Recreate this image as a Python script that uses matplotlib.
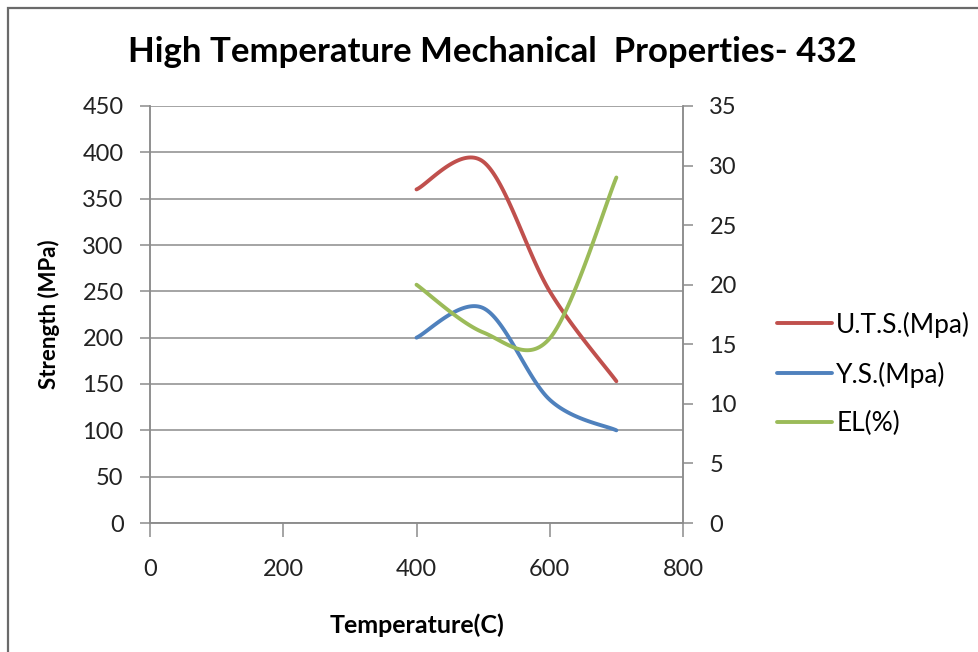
import matplotlib
matplotlib.use("Agg")
import matplotlib.pyplot as plt
import numpy as np
from matplotlib.bezier import BezierSegment
from matplotlib.patches import Rectangle

plt.rcParams['font.family'] = ['Lato', 'DejaVu Sans']

temps = [400, 500, 600, 700]
uts = [360, 390, 250, 153]
ys = [200, 232, 133, 100]
el = [20, 16, 15.5, 29]

x_ticks = [0, 200, 400, 600, 800]
left_ticks = list(range(0, 451, 50))
right_ticks = list(range(0, 36, 5))

red = "#C0504D"
blue = "#4F81BD"
green = "#9BBB59"
grey = "#8C8C8C"


def smooth(xs, vs, n=40):
    # excel style smoothed line: catmull-rom control points, cubic bezier pieces
    pts = np.column_stack([xs, vs]).astype(float)
    ext = np.vstack([pts[0], pts, pts[-1]])
    out = []
    for i in range(len(pts) - 1):
        p0, p1 = ext[i + 1], ext[i + 2]
        c1 = p0 + (ext[i + 2] - ext[i]) / 6
        c2 = p1 - (ext[i + 3] - ext[i + 1]) / 6
        seg = BezierSegment(np.array([p0, c1, c2, p1]))
        out.append(seg(np.linspace(0, 1, n)))
    out = np.vstack(out)
    return out[:, 0], out[:, 1]


fig = plt.figure(figsize=(9.79, 6.52), dpi=100)
# outer chart border, only top and left edges fall inside the picture
fig.patches.append(Rectangle((8 / 979, -0.05), 1.0, 1 - 8 / 652 + 0.05,
                             transform=fig.transFigure, fill=False,
                             edgecolor="#6a6a6a", linewidth=1.6))

ax = fig.add_axes([150 / 979, 1 - 523 / 652, 533 / 979, 417 / 652])
ax2 = ax.twinx()

sx, sy = smooth(temps, uts)
l1, = ax.plot(sx, sy, color=red, lw=2.8, solid_capstyle="round", label="U.T.S.(Mpa)")
sx, sy = smooth(temps, ys)
l2, = ax.plot(sx, sy, color=blue, lw=2.8, solid_capstyle="round", label="Y.S.(Mpa)")
sx, sy = smooth(temps, el)
l3, = ax2.plot(sx, sy, color=green, lw=2.8, solid_capstyle="round", label="EL(%)")

ax.set_xlim(0, 800)
ax.set_ylim(0, 450)
ax2.set_ylim(0, 35)
ax.set_xticks(x_ticks)
ax.set_yticks(left_ticks)
ax2.set_yticks(right_ticks)
ax.yaxis.grid(True, color=grey, lw=1.1)
ax.set_axisbelow(True)

for a in (ax, ax2):
    for s in a.spines.values():
        s.set_color(grey)
        s.set_linewidth(1.1)
    a.spines['top'].set_visible(False)
    a.tick_params(colors=grey, labelcolor="#222222", labelsize=17,
                  width=1.1, direction="out")
ax.tick_params(axis='x', length=10, pad=16)
ax.tick_params(axis='y', length=7, pad=12)
ax2.tick_params(axis='y', length=7, pad=12)

ax.set_xlabel("Temperature(C)", fontsize=18, fontweight="bold", labelpad=24)
ax.set_ylabel("Strength (MPa)", fontsize=16, fontweight="bold", labelpad=16)
fig.suptitle("High Temperature Mechanical  Properties- 432", fontsize=25,
             fontweight="bold", x=0.503, y=0.945)

fig.legend(handles=[l1, l2, l3], loc="center left", bbox_to_anchor=(777 / 979, 1 - 374 / 652),
           frameon=False, fontsize=19, labelspacing=0.9, handlelength=2.1,
           handletextpad=0.15, borderpad=0, borderaxespad=0)

fig.savefig("out.png", dpi=100)
plt.close(fig)
